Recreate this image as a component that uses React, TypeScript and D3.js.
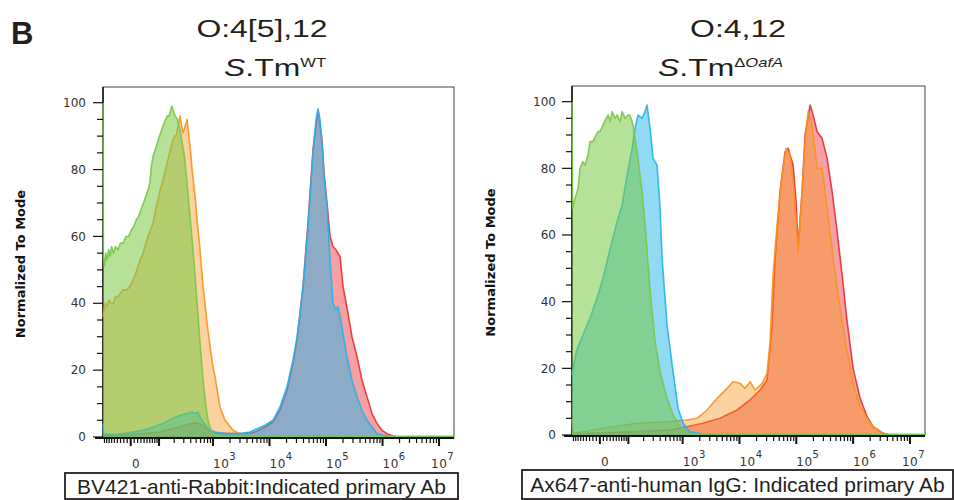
import React from "react";
import * as d3 from "d3";

type Pt = [number, number];

// ---------- data (fluorescence value, % of mode) ----------
const wtGreen: Pt[] = [[-97,100],[-95,54],[-90,51],[-84,55],[-78,53],[-72,56],[-66,54],[-60,57],[-54,55],[-46,57],[-38,56],[-30,58],[-22,58],[-14,60],[-6,60],[2,62],[9,63],[16,65],[23,66],[30,68],[38,70],[46,72],[54,74],[60,76],[66,81],[73,84],[82,86],[92,88],[102,90],[114,92],[128,94],[146,96],[160,96],[172,98],[182,99],[195,97],[210,96],[230,95],[256,92],[280,88],[308,84],[344,76],[388,66],[441,56],[500,44],[587,28],[665,17],[750,9],[815,5],[920,2],[1087,0.6],[1500,0.2],[1.84e7,0.2]];
const wtOrange: Pt[] = [[-97,36],[-92,38],[-86,40],[-78,39],[-70,41],[-62,40],[-54,40],[-46,42],[-38,42],[-30,43],[-22,44],[-12,44],[-2,45],[7,47],[18,50],[28,53],[37,55],[46,58],[54,60],[63,62],[73,64],[84,68],[95,71],[106,74],[117,76],[131,79],[146,82],[163,85],[182,88],[200,90],[216,90],[236,93],[256,96],[274,93],[292,91],[316,93],[344,95],[370,90],[400,85],[423,80],[479,72],[541,62],[587,56],[665,45],[783,34],[920,25],[1000,21],[1087,18],[1332,9],[1630,5],[2260,2],[3000,1],[4000,0.5],[5500,0.3],[1.84e7,0]];
const wtBlue: Pt[] = [[-97,4],[-94,1],[-80,0.8],[-50,0.8],[-22,1],[7,1.5],[37,2],[73,3],[117,4],[182,5.5],[256,6.5],[344,7],[423,7.5],[479,7],[541,7.5],[587,6],[665,4.5],[783,3],[920,2],[1087,1.5],[1630,1],[3000,1],[4520,1.5],[6000,2.5],[8300,3.5],[11500,5],[15300,9],[20400,15],[26000,23],[30700,30],[34700,37],[39200,45],[48000,63],[58900,85],[66500,95],[72200,98],[78300,95],[84900,88],[92200,78],[104000,69],[117800,53],[133000,40],[150000,38],[163000,39],[177000,36],[200000,31],[235000,24],[288000,17],[354000,12],[433000,8],[532000,5],[651000,3],[800000,1],[1.2e6,0.3],[1.7e6,0],[1.84e7,0]];
const wtRed: Pt[] = [[-97,0.5],[-31,0.5],[37,1],[106,1.5],[182,2.5],[256,3],[388,4],[520,4.2],[665,3.5],[815,2],[1087,1.2],[2000,1],[3700,1],[5500,1.5],[8300,3],[11500,4.5],[15300,8],[20400,14],[26000,22],[30700,29],[39200,45],[48000,64],[58900,86],[72200,98],[84900,89],[92200,79],[104000,70],[117800,60],[133000,57],[150000,56],[177000,54],[200000,45],[245000,37],[288000,30],[354000,24],[433000,17],[532000,12],[651000,7],[800000,4],[980000,2],[1.2e6,1],[1.53e6,0.3],[2e6,0],[1.84e7,0]];

const koGreen: Pt[] = [[-97,100],[-94,68],[-83,71],[-70,74],[-63,80],[-52,82],[-45,81],[-35,84],[-29,88],[-20,88],[-11,90],[-5,91],[0.5,91],[9,93],[18,95],[24,96],[30,94],[36,97],[46,95],[53,96],[64,94],[72,97],[85,95],[99,96],[108,96],[125,93],[150,85],[187,73],[213,63],[263,43],[324,28],[398,19],[530,11],[677,6],[900,2.5],[1195,0.5],[2024,0.2],[1.84e7,0.2]];
const koBlue: Pt[] = [[-97,18],[-78,25],[-52,30],[-29,35],[-8,41],[9,47],[30,56],[53,64],[72,69],[94,78],[120,86],[137,92],[157,96],[187,95],[213,97],[231,99],[263,92],[298,83],[351,81],[398,68],[432,53],[530,33],[677,19],[830,8],[1016,3.5],[1350,1],[2280,0.3],[4550,0],[1.84e7,0]];
const koOrange: Pt[] = [[-97,5],[-92,0.5],[9,2],[150,3.5],[599,4],[1195,4.5],[1790,5],[2690,7.5],[4030,11],[6050,14],[7710,16],[10250,15.5],[12550,14],[15370,16],[18820,13.5],[25000,15.5],[30600,18.5],[34600,28],[39000,48],[45900,63],[56200,78],[66100,86],[77800,84],[91500,73],[107600,55],[126500,73],[142900,88],[161300,97],[189700,93],[232400,80],[284600,80],[348600,68],[444600,53],[590000,38],[784000,25],[1.0e6,15.5],[1.328e6,8.5],[1.764e6,5],[2.25e6,2.5],[3.375e6,0.5],[4.48e6,0],[1.84e7,0]];
const koRed: Pt[] = [[-97,0.3],[150,1],[599,1.5],[1195,2.5],[2280,3.5],[4555,5],[9070,7.5],[15370,10.5],[23050,13.5],[30600,16.5],[37500,33],[42400,53],[51800,73],[63500,85],[71700,86],[87800,81],[99200,70],[107600,56],[126500,73],[142900,90],[175000,99],[197600,96],[232400,91],[284600,89],[348600,83],[427000,73],[522600,61],[640000,48],[784000,34],[1.0e6,20],[1.328e6,11],[1.764e6,5.5],[2.25e6,2.5],[3.375e6,0.5],[4.48e6,0],[1.84e7,0]];

// ---------- axes ----------
const X_MIN = -97;
const X_MAX = 1.84e7;
const LIN_W = 70;
const Y_MAX = 104.7;
const decadeTicks = [1e3, 1e4, 1e5, 1e6, 1e7];
const decadeExps = ["3", "4", "5", "6", "7"];
const yTickValues = d3.range(0, 101, 5);
const yLabelValues = [0, 20, 40, 60, 80, 100];

const minorTicks: number[] = [];
for (let k = -90; k <= 90; k += 10) if (k !== 0) minorTicks.push(k);
for (let e = 2; e <= 6; e++) for (let m = 2; m <= 9; m++) minorTicks.push(m * Math.pow(10, e));
const majorTicks = [0, 100, ...decadeTicks];

const COLORS = {
  red: "#ec2d35",
  orange: "#f7941d",
  blue: "#22b5ea",
  green: "#78c846",
};

type Series = { data: Pt[]; color: string; fillOpacity: number };

function Panel(props: {
  px: number; py: number; w: number; h: number;
  series: Series[]; yLabelX: number; yTitleX: number;
}) {
  const { px, py, w, h, series, yLabelX, yTitleX } = props;
  const tf = (v: number) => Math.asinh(v / LIN_W);
  const xl = d3.scaleLinear().domain([tf(X_MIN), tf(X_MAX)]).range([0, w]);
  const x = (v: number) => xl(tf(v));
  const y = d3.scaleLinear().domain([0, Y_MAX]).range([h, 0]);
  const area = d3.area<Pt>().x(d => x(d[0])).y0(h).y1(d => y(d[1]));
  const line = d3.line<Pt>().x(d => x(d[0])).y(d => y(d[1]));
  const clipId = `clip${px}`;
  const inDom = (v: number) => v >= X_MIN && v <= X_MAX;
  return (
    <g transform={`translate(${px},${py})`}>
      <defs>
        <clipPath id={clipId}><rect x={-1} y={-2} width={w + 1} height={h + 2} /></clipPath>
      </defs>
      <rect x={0} y={0} width={w} height={h} fill="none" stroke="#444" strokeWidth={1} />
      {/* y axis */}
      <line x1={0} x2={0} y1={0} y2={h} stroke="#111" strokeWidth={1.5} />
      <g clipPath={`url(#${clipId})`}>
        {series.map((s, i) => (
          <g key={i}>
            <path d={area(s.data) || ""} fill={s.color} fillOpacity={s.fillOpacity} />
            <path d={line(s.data) || ""} fill="none" stroke={s.color} strokeWidth={1.6} strokeOpacity={0.9} strokeLinejoin="round" />
          </g>
        ))}
      </g>
      {yTickValues.map(v => (
        <line key={v} x1={v % 20 === 0 ? -10 : -6} x2={0} y1={y(v)} y2={y(v)} stroke="#111" strokeWidth={1.2} />
      ))}
      {yLabelValues.map(v => (
        <text key={v} x={yLabelX} y={y(v)} dy="0.35em" textAnchor="end" fontFamily="DejaVu Sans, sans-serif" fontSize={12} fill="#333">{v}</text>
      ))}
      <text transform={`translate(${yTitleX},${h / 2 + 2}) rotate(-90)`} textAnchor="middle" fontFamily="DejaVu Sans, sans-serif" fontWeight="bold" fontSize={13} fill="#111">Normalized To Mode</text>
      {/* x axis */}
      <line x1={-8} x2={w} y1={h + 1} y2={h + 1} stroke="#111" strokeWidth={2} />
      {minorTicks.filter(inDom).map(v => (
        <line key={"m" + v} x1={x(v)} x2={x(v)} y1={h + 1} y2={h + 6} stroke="#111" strokeWidth={1.2} />
      ))}
      {majorTicks.filter(inDom).map(v => (
        <line key={"M" + v} x1={x(v)} x2={x(v)} y1={h + 1} y2={h + 9} stroke="#111" strokeWidth={2} />
      ))}
      <text x={x(0) + 5} y={h + 31} textAnchor="middle" fontFamily="DejaVu Sans, sans-serif" fontSize={12} fill="#333">0</text>
      {decadeTicks.map((v, i) => (
        <text key={v} x={x(v) - (i === decadeTicks.length - 1 ? 8 : 0)} y={h + 31} fontFamily="DejaVu Sans, sans-serif" fontSize={12} fill="#333" letterSpacing={0.5}>
          10<tspan dy={-8} fontSize={10}>{decadeExps[i]}</tspan>
        </text>
      ))}
    </g>
  );
}

export default function App() {
  const order = (r: Pt[], o: Pt[], b: Pt[], g: Pt[]): Series[] => [
    { data: r, color: COLORS.red, fillOpacity: 0.45 },
    { data: o, color: COLORS.orange, fillOpacity: 0.42 },
    { data: b, color: COLORS.blue, fillOpacity: 0.5 },
    { data: g, color: COLORS.green, fillOpacity: 0.55 },
  ];
  const titleFont = "Liberation Sans, Arial, sans-serif";
  return (
    <svg width={954} height={500} style={{ position: "absolute", left: 0, top: 0, background: "#fff" }}>
      <rect x={0} y={0} width={954} height={500} fill="#fff" />
      <text x={11} y={44} fontFamily={titleFont} fontWeight="bold" fontSize={31} fill="#231f20">B</text>

      <text transform="translate(262,37) scale(1.33,1)" textAnchor="middle" fontFamily={titleFont} fontSize={24} fill="#231f20">O:4[5],12</text>
      <text transform="translate(224,76) scale(1.33,1)" fontFamily={titleFont} fontSize={24} fill="#231f20">
        <tspan fontStyle="italic">S</tspan>.Tm<tspan dy={-9} fontSize={12.5}>WT</tspan>
      </text>
      <text transform="translate(738,37) scale(1.33,1)" textAnchor="middle" fontFamily={titleFont} fontSize={24} fill="#231f20">O:4,12</text>
      <text transform="translate(658,76) scale(1.33,1)" fontFamily={titleFont} fontSize={24} fill="#231f20">
        <tspan fontStyle="italic">S</tspan>.Tm<tspan dy={-9} fontSize={12.5}>Δ</tspan><tspan fontSize={12.5} fontStyle="italic">OafA</tspan>
      </text>

      <Panel px={103} py={87} w={351} h={350} series={order(wtRed, wtOrange, wtBlue, wtGreen)} yLabelX={-17} yTitleX={-78} />
      <Panel px={572} py={86} w={353} h={349} series={order(koRed, koOrange, koBlue, koGreen)} yLabelX={-16} yTitleX={-77} />

      <rect x={65} y={473} width={393} height={26} fill="none" stroke="#231f20" strokeWidth={1.8} />
      <text x={261.5} y={494} textAnchor="middle" fontFamily={titleFont} fontSize={21} fill="#231f20">BV421-anti-Rabbit:Indicated primary Ab</text>
      <rect x={522} y={470} width={431} height={29} fill="none" stroke="#231f20" strokeWidth={1.8} />
      <text x={737.5} y={492} textAnchor="middle" fontFamily={titleFont} fontSize={21} fill="#231f20">Ax647-anti-human IgG: Indicated primary Ab</text>
    </svg>
  );
}
